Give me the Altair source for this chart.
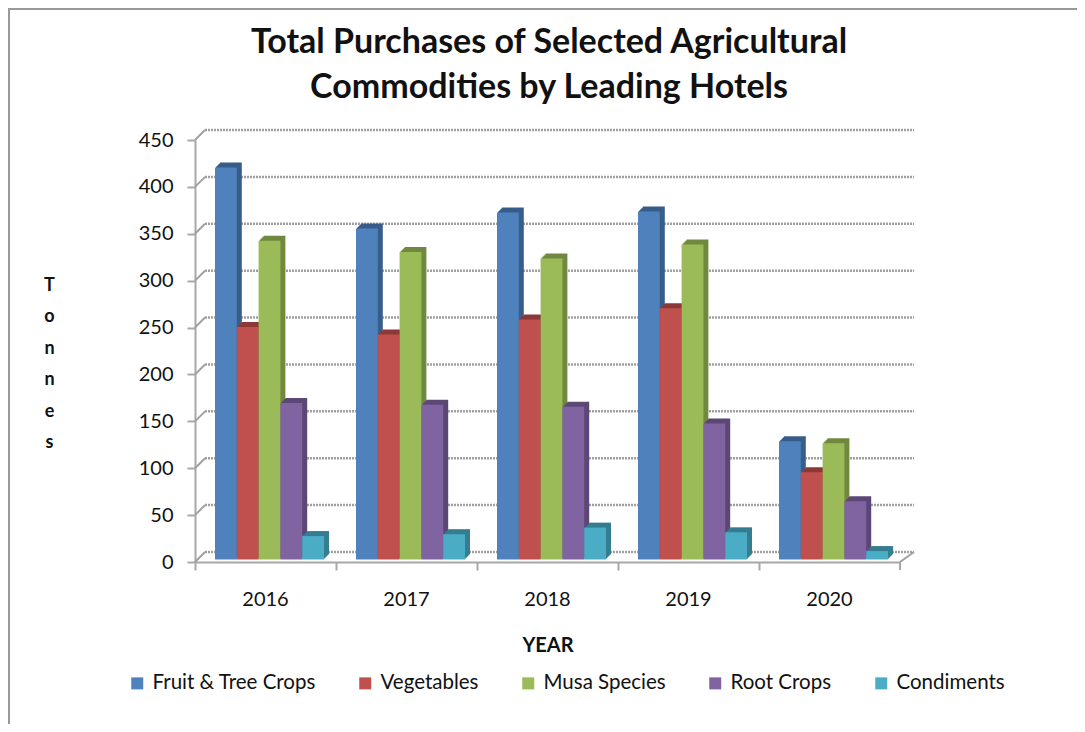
import altair as alt
import pandas as pd

years = ["2016", "2017", "2018", "2019", "2020"]
series = ["Fruit & Tree Crops", "Vegetables", "Musa Species", "Root Crops", "Condiments"]
fruit = [418, 353, 370, 371, 126]
vegetables = [248, 240, 256, 268, 93]
musa = [340, 328, 321, 336, 124]
root = [167, 165, 163, 145, 62]
condiments = [25, 27, 34, 29, 9]
front_colors = ["#4F81BD", "#C0504D", "#9BBB59", "#8064A2", "#4BACC6"]
side_colors = ["#385D8A", "#8C3836", "#71893F", "#5C4776", "#357D91"]
ticks = [0, 50, 100, 150, 200, 250, 300, 350, 400, 450]
FONT = "Lato"
GRID = "#A0A0A0"
AXIS = "#A8A8A8"
TEXT = "#111111"

W, H = 705, 422
STEP = W / 5
BAR = 21.8
INSET = 20

rows = []
for j, (name, vals) in enumerate(zip(series, [fruit, vegetables, musa, root, condiments])):
    for i, (yr, v) in enumerate(zip(years, vals)):
        rows.append({"year": yr, "series": name, "value": v, "i": i, "j": j})
df = pd.DataFrame(rows)
tick_df = pd.DataFrame({"tick": ticks})
year_df = pd.DataFrame({"year": years})
frame_df = pd.DataFrame({"frame": [0]})

y_scale = alt.Scale(domain=[0, 450], nice=False)
y_axis = alt.Axis(values=ticks, grid=False, labelFont=FONT, labelFontSize=20,
                  labelColor=TEXT, labelPadding=14, tickSize=8, tickColor=AXIS,
                  tickWidth=2, domainColor=AXIS, domainWidth=2,
                  titleFont=FONT, titleFontSize=18, titleFontWeight="bold",
                  titleColor=TEXT, titleAngle=0, titleAlign="center", titleBaseline="top",
                  titleX=-146, titleY=136, titleLineHeight=31.5)
Y_TITLE = ["T", "o", "n", "n", "e", "s"]


def y_enc(field):
    return alt.Y(field, stack=None, scale=y_scale, title=Y_TITLE, axis=y_axis)


x_scale = alt.Scale(domain=[0, 5], nice=False, zero=False)

# category axis, band scale with ticks on the band edges
x_axis_layer = alt.Chart(year_df).mark_rule(opacity=0).encode(
    x=alt.X("year:N", sort=years, title="YEAR",
            scale=alt.Scale(paddingInner=0, paddingOuter=0),
            axis=alt.Axis(labelAngle=0, labelFont=FONT, labelFontSize=20, labelColor=TEXT,
                          labelPadding=19, tickSize=8, tickColor=AXIS, tickWidth=2,
                          domainColor=AXIS, domainWidth=2, bandPosition=0,
                          titleFont=FONT, titleFontSize=20, titleFontWeight="bold",
                          titleColor=TEXT, titlePadding=26)))

last_tick = alt.Chart(frame_df).mark_rule(color=AXIS, strokeWidth=2).encode(
    x=alt.value(W), y=alt.value(H), y2=alt.value(H + 8))

# back-wall gridlines
grid = alt.Chart(tick_df).mark_rule(color=GRID, strokeWidth=2.5, strokeDash=[2, 1], yOffset=-10).encode(
    x=alt.value(10), x2=alt.value(719), y=y_enc("tick:Q"))
# side-wall diagonals
diag = alt.Chart(tick_df).transform_calculate(top="datum.tick + 10.66").mark_rule(
    color=GRID, strokeWidth=2).encode(
    x=alt.value(0), x2=alt.value(10), y=y_enc("tick:Q"), y2="top:Q")
floor = alt.Chart(pd.DataFrame({"a": [0], "b": [10.66]})).mark_rule(color=GRID, strokeWidth=2).encode(
    x=alt.value(W), x2=alt.value(719), y=y_enc("a:Q"), y2="b:Q")

color_front = alt.Color("series:N", sort=series,
                        scale=alt.Scale(domain=series, range=front_colors),
                        legend=alt.Legend(orient="none", legendX=-68, legendY=533, direction="horizontal",
                                          columns=5, title=None, symbolType="square", symbolSize=144,
                                          symbolStrokeWidth=0, labelFont=FONT, labelFontSize=20.5,
                                          labelLimit=300,
                                          labelColor=TEXT, columnPadding=39, labelOffset=5))
color_side = alt.Color("series:N", sort=series,
                       scale=alt.Scale(domain=series, range=side_colors), legend=None)


def bars(depth, color):
    return alt.Chart(df).transform_calculate(
        x0=f"datum.i + ({INSET} + datum.j * {BAR} + {depth}) / {STEP}",
        x1=f"datum.i + ({INSET} + (datum.j + 1) * {BAR} + {depth}) / {STEP}",
        base="0",
    ).mark_rect(yOffset=-2.5 - depth, y2Offset=-2.5 - depth).encode(
        x=alt.X("x0:Q", scale=x_scale, axis=None),
        x2="x1:Q",
        y=y_enc("value:Q"),
        y2="base:Q",
        color=color,
    )


side_layers = [bars(d, color_side) for d in [5, 4, 3, 2, 1]]
front = bars(0, color_front)

frame_h = alt.Chart(frame_df).mark_rule(color="#999999", strokeWidth=2).encode(
    x=alt.value(-187), x2=alt.value(882), y=alt.value(-131))
frame_v = alt.Chart(frame_df).mark_rule(color="#999999", strokeWidth=2).encode(
    x=alt.value(-186), y=alt.value(-132), y2=alt.value(584))

chart = alt.layer(
    frame_h, frame_v, x_axis_layer, last_tick, grid, diag, floor, *side_layers, front
).resolve_scale(color="independent", x="independent").properties(
    width=W, height=H,
    title=alt.TitleParams(
        text=["Total Purchases of Selected Agricultural", "Commodities by Leading Hotels"],
        font=FONT, fontSize=34, fontWeight="bold", color=TEXT, lineHeight=45,
        anchor="start", frame="group", dx=354, dy=127.5, align="center", offset=30),
    autosize=alt.AutoSizeParams(type="none"),
    padding={"left": 187, "top": 132, "right": 177, "bottom": 162},
    background="white",
).configure_view(stroke=None)

chart.save("out.html", embed_options={"renderer": "svg", "actions": False})
